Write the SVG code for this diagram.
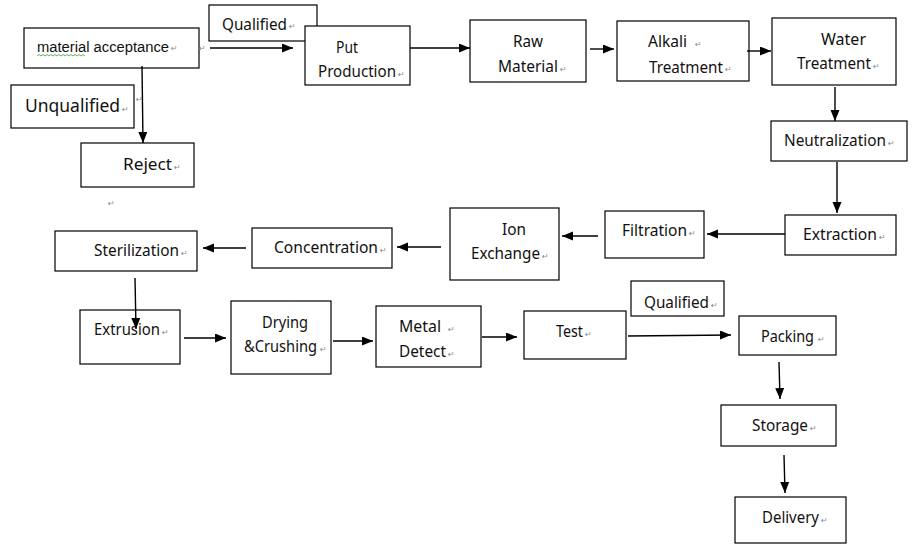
<svg xmlns="http://www.w3.org/2000/svg" width="924" height="554" viewBox="0 0 924 554">
<defs>
<marker id="ah" markerUnits="userSpaceOnUse" markerWidth="12" markerHeight="10" refX="11" refY="4.5" orient="auto">
<path d="M0,0 L11,4.5 L0,9 z" fill="#000"/>
</marker>
<style>
.b{fill:#fff;stroke:#000;stroke-width:1.2}
.t{font-family:"Noto Sans","Open Sans",sans-serif;font-size:15.5px;fill:#111}
.a{font-family:"Liberation Sans",Arial,sans-serif;font-size:14px;fill:#111}
.pm{font-family:"DejaVu Sans",sans-serif;font-size:8px;fill:#888}
.c line{stroke:#000;stroke-width:1.4;marker-end:url(#ah)}
</style>
</defs>
<rect width="924" height="554" fill="#fff"/>

<g id="acceptance">
<rect class="b" x="24" y="28" width="175" height="40"/>
<text class="a" x="37" y="52" textLength="132" lengthAdjust="spacingAndGlyphs">material acceptance</text>
<path d="M37,56 l2,-1.5 l2,1.5 l2,-1.5 l2,1.5 l2,-1.5 l2,1.5 l2,-1.5 l2,1.5 l2,-1.5 l2,1.5 l2,-1.5 l2,1.5 l2,-1.5 l2,1.5 l2,-1.5 l2,1.5 l2,-1.5 l2,1.5 l2,-1.5 l2,1.5 l2,-1.5 l2,1.5 l2,-1.5 l2,1.5" fill="none" stroke="#3a9a3a" stroke-width="0.8"/>
<text class="pm" x="171" y="51">↵</text>
</g>
<text class="pm" x="199" y="51">↵</text>

<g id="qualified1">
<rect class="b" x="209" y="5" width="108" height="36"/>
<text class="t" x="222" y="30" textLength="65" lengthAdjust="spacingAndGlyphs">Qualified</text>
<text class="pm" x="289" y="29">↵</text>
</g>

<g id="put-production">
<rect class="b" x="305" y="26" width="105" height="59"/>
<text class="t" x="336" y="53" textLength="22" lengthAdjust="spacingAndGlyphs">Put</text>
<text class="t" x="318" y="77" textLength="78" lengthAdjust="spacingAndGlyphs">Production</text>
<text class="pm" x="398" y="77">↵</text>
</g>

<g id="raw-material">
<rect class="b" x="470" y="20" width="116" height="62"/>
<text class="t" x="513" y="47" textLength="30" lengthAdjust="spacingAndGlyphs">Raw</text>
<text class="t" x="498" y="72" textLength="60" lengthAdjust="spacingAndGlyphs">Material</text>
<text class="pm" x="560" y="72">↵</text>
</g>

<g id="alkali">
<rect class="b" x="617" y="21" width="132" height="60"/>
<text class="t" x="648" y="47" textLength="39" lengthAdjust="spacingAndGlyphs">Alkali</text>
<text class="pm" x="695" y="47">↵</text>
<text class="t" x="649" y="73" textLength="74" lengthAdjust="spacingAndGlyphs">Treatment</text>
<text class="pm" x="725" y="72">↵</text>
</g>

<g id="water">
<rect class="b" x="772" y="18" width="124" height="67"/>
<text class="t" x="821" y="45" textLength="45" lengthAdjust="spacingAndGlyphs">Water</text>
<text class="t" x="797" y="69" textLength="74" lengthAdjust="spacingAndGlyphs">Treatment</text>
<text class="pm" x="873" y="69">↵</text>
</g>

<g id="neutralization">
<rect class="b" x="771" y="121" width="136" height="40"/>
<text class="t" x="784" y="146" textLength="102" lengthAdjust="spacingAndGlyphs">Neutralization</text>
<text class="pm" x="888" y="146">↵</text>
</g>

<g id="unqualified">
<rect class="b" x="11" y="85" width="123" height="43"/>
<text class="t" x="25" y="112" style="font-size:17.5px" textLength="95" lengthAdjust="spacingAndGlyphs">Unqualified</text>
<text class="pm" x="122" y="112">↵</text>
</g>
<text class="pm" x="136" y="102">↵</text>

<g id="reject">
<rect class="b" x="81" y="143" width="113" height="44"/>
<text class="t" x="123" y="170" textLength="49" lengthAdjust="spacingAndGlyphs">Reject</text>
<text class="pm" x="174" y="170">↵</text>
</g>
<text class="pm" x="108" y="206">↵</text>

<g id="extraction">
<rect class="b" x="785" y="215" width="111" height="40"/>
<text class="t" x="803" y="240" textLength="74" lengthAdjust="spacingAndGlyphs">Extraction</text>
<text class="pm" x="879" y="240">↵</text>
</g>

<g id="filtration">
<rect class="b" x="605" y="211" width="99" height="47"/>
<text class="t" x="622" y="236" textLength="65" lengthAdjust="spacingAndGlyphs">Filtration</text>
<text class="pm" x="689" y="236">↵</text>
</g>

<g id="ion-exchange">
<rect class="b" x="450" y="208" width="109" height="72"/>
<text class="t" x="502" y="235" textLength="24" lengthAdjust="spacingAndGlyphs">Ion</text>
<text class="t" x="471" y="259" textLength="69" lengthAdjust="spacingAndGlyphs">Exchange</text>
<text class="pm" x="542" y="259">↵</text>
</g>

<g id="concentration">
<rect class="b" x="252" y="228" width="140" height="40"/>
<text class="t" x="274" y="253" textLength="104" lengthAdjust="spacingAndGlyphs">Concentration</text>
<text class="pm" x="380" y="253">↵</text>
</g>

<g id="sterilization">
<rect class="b" x="55" y="231" width="142" height="40"/>
<text class="t" x="94" y="256" textLength="85" lengthAdjust="spacingAndGlyphs">Sterilization</text>
<text class="pm" x="181" y="256">↵</text>
</g>

<g id="extrusion">
<rect class="b" x="80" y="310" width="100" height="54"/>
<text class="t" x="94" y="335" textLength="66" lengthAdjust="spacingAndGlyphs">Extrusion</text>
<text class="pm" x="162" y="335">↵</text>
</g>

<g id="drying">
<rect class="b" x="231" y="301" width="100" height="73"/>
<text class="t" x="244" y="328" dx="18" textLength="46" lengthAdjust="spacingAndGlyphs">Drying</text>
<text class="t" x="244" y="352" textLength="73" lengthAdjust="spacingAndGlyphs">&amp;Crushing</text>
<text class="pm" x="320" y="352">↵</text>
</g>

<g id="metal-detect">
<rect class="b" x="376" y="306" width="105" height="61"/>
<text class="t" x="399" y="332" textLength="42" lengthAdjust="spacingAndGlyphs">Metal</text>
<text class="pm" x="448" y="332">↵</text>
<text class="t" x="399" y="357" textLength="47" lengthAdjust="spacingAndGlyphs">Detect</text>
<text class="pm" x="448" y="357">↵</text>
</g>

<g id="test">
<rect class="b" x="524" y="311" width="102" height="48"/>
<text class="t" x="556" y="337" textLength="27" lengthAdjust="spacingAndGlyphs">Test</text>
<text class="pm" x="585" y="337">↵</text>
</g>

<g id="qualified2">
<rect class="b" x="631" y="281" width="93" height="35"/>
<text class="t" x="644" y="308" textLength="65" lengthAdjust="spacingAndGlyphs">Qualified</text>
<text class="pm" x="711" y="308">↵</text>
</g>

<g id="packing">
<rect class="b" x="739" y="316" width="97" height="39"/>
<text class="t" x="761" y="342" textLength="53" lengthAdjust="spacingAndGlyphs">Packing</text>
<text class="pm" x="818" y="342">↵</text>
</g>

<g id="storage">
<rect class="b" x="721" y="405" width="115" height="41"/>
<text class="t" x="752" y="431" textLength="56" lengthAdjust="spacingAndGlyphs">Storage</text>
<text class="pm" x="810" y="431">↵</text>
</g>

<g id="delivery">
<rect class="b" x="735" y="497" width="111" height="46"/>
<text class="t" x="762" y="523" textLength="57" lengthAdjust="spacingAndGlyphs">Delivery</text>
<text class="pm" x="821" y="523">↵</text>
</g>

<g id="connectors" class="c">
<line x1="210" y1="48" x2="293" y2="48"/>
<line x1="142" y1="66" x2="143" y2="143"/>
<line x1="410" y1="48" x2="470" y2="48"/>
<line x1="590" y1="49" x2="614" y2="49"/>
<line x1="747" y1="51" x2="771" y2="51"/>
<line x1="835" y1="87" x2="835" y2="121"/>
<line x1="837" y1="162" x2="837" y2="213"/>
<line x1="785" y1="234" x2="707" y2="234"/>
<line x1="598" y1="236" x2="562" y2="236"/>
<line x1="441" y1="247" x2="397" y2="247"/>
<line x1="246" y1="248" x2="203" y2="248"/>
<line x1="135" y1="278" x2="136" y2="329"/>
<line x1="184" y1="338" x2="226" y2="338"/>
<line x1="333" y1="341" x2="373" y2="341"/>
<line x1="482" y1="337" x2="517" y2="337"/>
<line x1="628" y1="336" x2="731" y2="335"/>
<line x1="779" y1="362" x2="780" y2="399"/>
<line x1="784" y1="455" x2="785" y2="493"/>
</g>
</svg>
